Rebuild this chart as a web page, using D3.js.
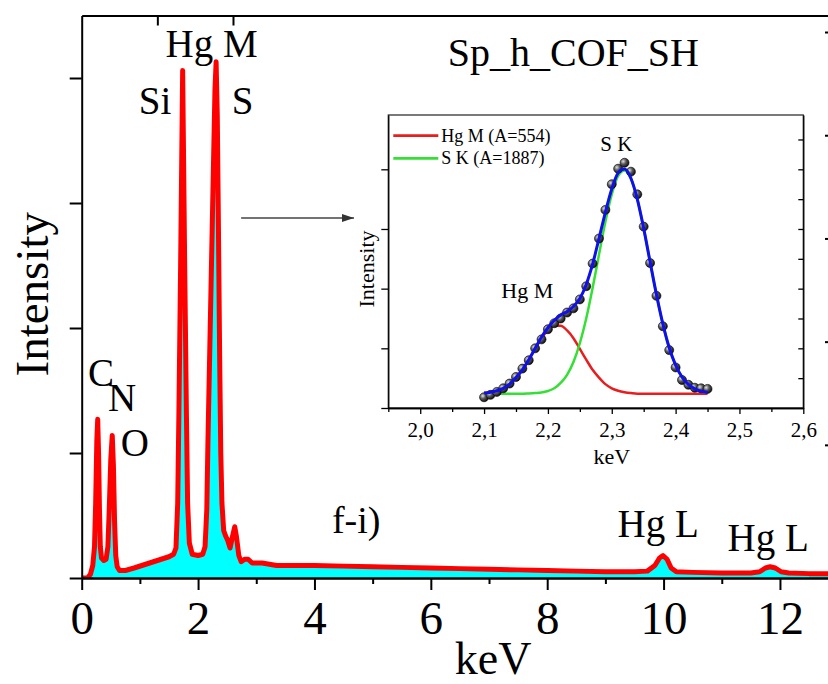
<!DOCTYPE html>
<html>
<head>
<meta charset="utf-8">
<script src="https://cdn.jsdelivr.net/npm/d3@7"></script>
<style>
  body { margin: 0; background: #fff; }
  svg { display: block; }
</style>
</head>
<body>
<script>
// ---- main EDX spectrum (keV, intensity in arbitrary units) ----
const spectrumKeV = [0.00, 0.10, 0.15, 0.19, 0.22, 0.24, 0.26, 0.275, 0.29, 0.305, 0.32, 0.34, 0.38, 0.42, 0.45, 0.47,
  0.50, 0.525, 0.545, 0.565, 0.585, 0.61, 0.65, 0.75, 0.90, 1.10, 1.30, 1.50, 1.58, 1.62, 1.65, 1.67, 1.70, 1.735,
  1.77, 1.80, 1.82, 1.85, 1.90, 2.00, 2.08, 2.12, 2.15, 2.17, 2.20, 2.23, 2.26, 2.29, 2.31, 2.33, 2.35, 2.37, 2.39,
  2.41, 2.44, 2.47, 2.51, 2.55, 2.59, 2.63, 2.66, 2.70, 2.74, 2.80, 2.86, 2.93, 3.10, 3.35, 3.60, 4.00, 4.50, 5.00,
  5.50, 6.00, 6.50, 7.00, 7.50, 8.00, 8.50, 9.00, 9.50, 9.72, 9.85, 9.93, 9.99, 10.06, 10.13, 10.22, 10.50, 11.00,
  11.50, 11.65, 11.75, 11.83, 11.92, 12.02, 12.15, 12.50, 12.86]
const spectrumCounts = [0.00, 0.00, 0.03, 0.10, 0.25, 0.60, 1.10, 1.27, 1.00, 0.55, 0.25, 0.16, 0.14, 0.15, 0.25, 0.50,
  0.95, 1.14, 0.90, 0.45, 0.18, 0.09, 0.06, 0.06, 0.08, 0.11, 0.14, 0.17, 0.19, 0.24, 0.60, 1.30, 2.50, 4.06,
  2.50, 1.30, 0.60, 0.28, 0.19, 0.18, 0.19, 0.25, 0.55, 1.10, 1.80, 2.50, 3.20, 3.90, 4.13, 3.70, 2.80, 1.80, 1.00,
  0.60, 0.38, 0.34, 0.30, 0.24, 0.33, 0.41, 0.33, 0.18, 0.13, 0.15, 0.15, 0.12, 0.12, 0.10, 0.10, 0.10, 0.095, 0.09,
  0.085, 0.08, 0.075, 0.07, 0.065, 0.06, 0.055, 0.05, 0.05, 0.055, 0.10, 0.16, 0.18, 0.15, 0.08, 0.05, 0.045, 0.04,
  0.04, 0.05, 0.08, 0.09, 0.08, 0.05, 0.04, 0.035, 0.035]

const xMajorTicks = [0, 2, 4, 6, 8, 10, 12]
const xMinorTicks = [1, 3, 5, 7, 9, 11]
const yTicks = [0, 1, 2, 3, 4]
const topTicks = [1.3, 2.6]
const rightTicks = [1, 2, 3, 4, 5]

const peakLabels = ["Hg M", "Si", "S", "C", "N", "O", "f-i)", "Hg L", "Hg L", "Sp_h_COF_SH"]

// ---- inset: fit of the S K / Hg M region ----
const insetKeV = [2.10, 2.11, 2.12, 2.13, 2.14, 2.15, 2.16, 2.17, 2.18, 2.19, 2.20, 2.21, 2.22, 2.23, 2.24, 2.25,
  2.26, 2.27, 2.28, 2.29, 2.30, 2.31, 2.32, 2.33, 2.34, 2.35, 2.36, 2.37, 2.38, 2.39, 2.40, 2.41, 2.42, 2.43, 2.44, 2.45]
const insetMeasured = [0.18, 0.22, 0.27, 0.33, 0.41, 0.52, 0.66, 0.80, 1.00, 1.15, 1.32, 1.42, 1.50, 1.60, 1.67, 1.82,
  2.04, 2.42, 2.84, 3.32, 3.75, 4.01, 4.11, 3.96, 3.58, 3.04, 2.43, 1.88, 1.37, 0.97, 0.68, 0.47, 0.39, 0.34, 0.33, 0.32]
const fitHgM = [0.25, 0.265, 0.29, 0.33, 0.40, 0.51, 0.64, 0.81, 0.99, 1.17, 1.30, 1.38, 1.38, 1.30, 1.17, 0.99,
  0.81, 0.64, 0.51, 0.40, 0.33, 0.29, 0.265, 0.25, 0.24, 0.24, 0.24, 0.24, 0.24, 0.24, 0.24, 0.24, 0.24, 0.24, 0.24, 0.24]
const fitSK = [0.24, 0.24, 0.24, 0.24, 0.24, 0.24, 0.24, 0.244, 0.25, 0.26, 0.285, 0.33, 0.42, 0.555, 0.77, 1.085,
  1.50, 2.01, 2.57, 3.12, 3.58, 3.89, 3.98, 3.84, 3.50, 3.01, 2.45, 1.90, 1.41, 1.01, 0.72, 0.52, 0.395, 0.32, 0.28, 0.26]
const fitSum = [0.25, 0.265, 0.29, 0.33, 0.40, 0.51, 0.64, 0.81, 1.00, 1.19, 1.345, 1.47, 1.56, 1.615, 1.70, 1.835,
  2.07, 2.41, 2.84, 3.28, 3.67, 3.94, 4.005, 3.85, 3.50, 3.01, 2.45, 1.90, 1.41, 1.01, 0.72, 0.52, 0.395, 0.32, 0.28, 0.26]
const legendNames = ["Hg M (A=554)", "S K (A=1887)"]
const insetXTicks = [2.0, 2.1, 2.2, 2.3, 2.4, 2.5, 2.6]
const insetXMinor = [1.95, 2.05, 2.15, 2.25, 2.35, 2.45, 2.55]
const insetYTicks = [0, 1, 2, 3, 4]
const insetYMinor = [0.5, 1, 1.5, 2, 2.5, 3, 3.5, 4, 4.5]

const width = 828, height = 684
const serif = "'Liberation Serif', 'Times New Roman', serif"

const svg = d3.select("body").append("svg")
  .attr("width", width)
  .attr("height", height)
  .attr("font-family", serif)

const x = d3.scaleLinear().domain([0, 12.86]).range([81.7, 830])
const y = d3.scaleLinear().domain([0, 4.5]).range([578, 15.5])
const yRight = d3.scaleLinear().domain([-0.29, 5.16]).range([578, 15.5])

const spectrum = spectrumKeV.map((k, i) => [k, spectrumCounts[i]])

svg.append("clipPath").attr("id", "plot")
  .append("rect").attr("x", x(0)).attr("y", 0).attr("width", width).attr("height", y(0))

const gPlot = svg.append("g").attr("clip-path", "url(#plot)")

gPlot.append("path")
  .datum(spectrum)
  .attr("fill", "#00FFFF")
  .attr("d", d3.area().x(d => x(d[0])).y0(y(0)).y1(d => y(d[1])))

gPlot.append("path")
  .datum(spectrum)
  .attr("fill", "none")
  .attr("stroke", "#FF0000")
  .attr("stroke-width", 5)
  .attr("stroke-linejoin", "round")
  .attr("d", d3.line().x(d => x(d[0])).y(d => y(d[1])))

// axes
function styleAxis(g, sw) {
  g.selectAll("path, line").attr("stroke", "#000").attr("stroke-width", sw)
  g.selectAll("text").attr("fill", "#000").attr("font-family", serif)
}

svg.append("g")
  .attr("transform", `translate(0,${y(0)})`)
  .call(d3.axisBottom(x).tickValues(xMinorTicks).tickSize(6).tickSizeOuter(0).tickFormat(""))
  .call(g => styleAxis(g, 2))

svg.append("g")
  .attr("transform", `translate(0,${y(0)})`)
  .call(d3.axisBottom(x).tickValues(xMajorTicks).tickSize(12).tickSizeOuter(0).tickPadding(11).tickFormat(d3.format("d")))
  .call(g => styleAxis(g, 2))
  .call(g => g.selectAll("text").attr("font-size", 47))

svg.append("g")
  .attr("transform", `translate(${x(0)},0)`)
  .call(d3.axisLeft(y).tickValues(yTicks).tickSize(12).tickSizeOuter(0).tickFormat(""))
  .call(g => styleAxis(g, 2))

svg.append("g")
  .attr("transform", `translate(0,${y.range()[1]})`)
  .call(d3.axisTop(x).tickValues(topTicks).tickSize(-10).tickSizeOuter(0).tickFormat(""))
  .call(g => styleAxis(g, 2))

svg.append("g")
  .attr("transform", `translate(831,0)`)
  .call(d3.axisRight(yRight).tickValues(rightTicks).tickSize(-6).tickSizeOuter(0).tickFormat(""))
  .call(g => styleAxis(g, 2))

svg.append("text")
  .attr("x", x(7.07)).attr("y", 674)
  .attr("text-anchor", "middle")
  .attr("font-size", 46)
  .text("keV")

svg.append("text")
  .attr("transform", `translate(48,${y(2.27)}) rotate(-90)`)
  .attr("text-anchor", "middle")
  .attr("font-size", 47)
  .text("Intensity")

// peak annotations: [keV, intensity, font size]
const labelSpots = [[1.44, 4.17, 39], [0.98, 3.71, 39], [2.58, 3.71, 39], [0.11, 1.54, 39], [0.45, 1.34, 39],
  [0.67, 0.98, 39], [4.30, 0.36, 38], [9.21, 0.33, 39], [11.10, 0.22, 39], [6.29, 4.10, 40]]

svg.append("g").selectAll("text")
  .data(peakLabels)
  .join("text")
    .attr("x", (d, i) => x(labelSpots[i][0]))
    .attr("y", (d, i) => y(labelSpots[i][1]))
    .attr("font-size", (d, i) => labelSpots[i][2])
    .text(d => d)

// arrow pointing at the inset
const defs = svg.append("defs")
defs.append("marker")
  .attr("id", "arrow")
  .attr("markerUnits", "userSpaceOnUse")
  .attr("markerWidth", 12).attr("markerHeight", 8)
  .attr("refX", 12).attr("refY", 4)
  .attr("orient", "auto")
  .append("path").attr("d", "M0,0L12,4L0,8Z").attr("fill", "#333")

svg.append("line")
  .attr("x1", x(2.74)).attr("x2", x(4.68))
  .attr("y1", y(2.88)).attr("y2", y(2.88))
  .attr("stroke", "#444").attr("stroke-width", 1.5)
  .attr("marker-end", "url(#arrow)")

// ---- inset ----
const ix = d3.scaleLinear().domain([1.95, 2.6]).range([388.3, 803.3])
const iy = d3.scaleLinear().domain([0, 4.91]).range([408, 115])

const grad = defs.append("radialGradient").attr("id", "ball")
  .attr("cx", "35%").attr("cy", "35%").attr("r", "70%")
grad.append("stop").attr("offset", "0%").attr("stop-color", "#e0e0e0")
grad.append("stop").attr("offset", "45%").attr("stop-color", "#5a5a5a")
grad.append("stop").attr("offset", "100%").attr("stop-color", "#0a0a0a")

const gInset = svg.append("g")

gInset.append("rect")
  .attr("x", ix.range()[0]).attr("y", iy.range()[1])
  .attr("width", ix.range()[1] - ix.range()[0])
  .attr("height", iy.range()[0] - iy.range()[1])
  .attr("fill", "#fff")

const fitLine = d3.line()
  .x((d, i) => ix(insetKeV[i]))
  .y(d => iy(d))
  .curve(d3.curveMonotoneX)

gInset.append("path").datum(fitHgM)
  .attr("fill", "none").attr("stroke", "#E81E1E").attr("stroke-width", 2.5)
  .attr("d", fitLine)

gInset.append("path").datum(fitSK)
  .attr("fill", "none").attr("stroke", "#33E033").attr("stroke-width", 2.5)
  .attr("d", fitLine)

gInset.append("g").selectAll("circle")
  .data(insetMeasured)
  .join("circle")
    .attr("cx", (d, i) => ix(insetKeV[i]))
    .attr("cy", d => iy(d))
    .attr("r", 4.5)
    .attr("fill", "url(#ball)")
    .attr("stroke", "#000")
    .attr("stroke-width", 0.6)

gInset.append("path").datum(fitSum)
  .attr("fill", "none").attr("stroke", "#1010E8").attr("stroke-width", 3)
  .attr("d", fitLine)

// inset frame and axes
gInset.append("rect")
  .attr("x", ix.range()[0]).attr("y", iy.range()[1])
  .attr("width", ix.range()[1] - ix.range()[0])
  .attr("height", iy.range()[0] - iy.range()[1])
  .attr("fill", "none").attr("stroke", "#333").attr("stroke-width", 1.3)

const commaFmt = d => d3.format(".1f")(d).replace(".", ",")

gInset.append("g")
  .attr("transform", `translate(0,${iy(0)})`)
  .call(d3.axisBottom(ix).tickValues(insetXMinor).tickSize(4).tickSizeOuter(0).tickFormat(""))
  .call(g => styleAxis(g, 1.3))

gInset.append("g")
  .attr("transform", `translate(0,${iy(0)})`)
  .call(d3.axisBottom(ix).tickValues(insetXTicks).tickSize(6).tickSizeOuter(0).tickPadding(8).tickFormat(commaFmt))
  .call(g => styleAxis(g, 1.3))
  .call(g => g.selectAll("text").attr("font-size", 21))

gInset.append("g")
  .attr("transform", `translate(${ix(1.95)},0)`)
  .call(d3.axisLeft(iy).tickValues(insetYTicks).tickSize(7).tickSizeOuter(0).tickFormat(""))
  .call(g => styleAxis(g, 1.3))

gInset.append("g")
  .attr("transform", `translate(${ix(2.6)},0)`)
  .call(d3.axisRight(iy).tickValues(insetYMinor).tickSize(-5).tickSizeOuter(0).tickFormat(""))
  .call(g => styleAxis(g, 1.3))

gInset.append("text")
  .attr("x", ix(2.30)).attr("y", 464)
  .attr("text-anchor", "middle").attr("font-size", 22)
  .text("keV")

gInset.append("text")
  .attr("transform", `translate(374,${iy(2.33)}) rotate(-90)`)
  .attr("text-anchor", "middle").attr("font-size", 22)
  .text("Intensity")

gInset.append("text")
  .attr("x", ix(2.282)).attr("y", iy(4.30))
  .attr("font-size", 21)
  .text("S K")

gInset.append("text")
  .attr("x", ix(2.127)).attr("y", iy(1.84))
  .attr("font-size", 22)
  .text("Hg M")

// legend
const legendColors = ["#E81E1E", "#33E033"]
const gLegend = gInset.append("g")
  .selectAll("g")
  .data(legendNames)
  .join("g")
    .attr("transform", (d, i) => `translate(393.3,${135.7 + i * 22.6})`)

gLegend.append("line")
  .attr("x1", 0).attr("x2", 45)
  .attr("stroke", (d, i) => legendColors[i])
  .attr("stroke-width", 2.8)

gLegend.append("text")
  .attr("x", 48).attr("y", 6)
  .attr("font-size", 18)
  .text(d => d)
</script>
</body>
</html>
